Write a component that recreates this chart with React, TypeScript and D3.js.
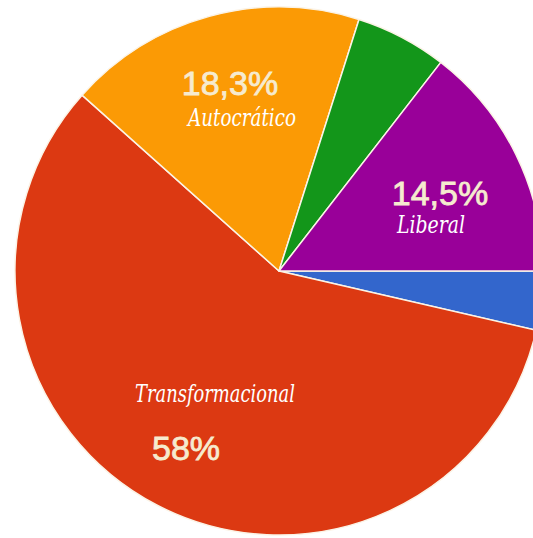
import React from "react";
import * as d3 from "d3";

const categories = ["Otro", "Transformacional", "Autocrático", "Otro 2", "Liberal"];
const values = [3.6, 58, 18.3, 5.6, 14.5];
const colors = ["#3366cc", "#dc3912", "#fb9a05", "#13961a", "#990099"];
const pctLabels = ["", "58%", "18,3%", "", "14,5%"];
const nameLabels = ["", "Transformacional", "Autocrático", "", "Liberal"];

const W = 533;
const H = 538;
const cx = 279;
const cy = 271;
const R = 264;

// label placements (x center, baseline) per slice index
const pctPos: Record<number, [number, number]> = { 1: [186, 460], 2: [230, 95], 4: [440, 205] };
const namePos: Record<number, [number, number, number]> = {
  1: [215, 402, 160],
  2: [242, 126, 108],
  4: [431, 233, 68],
};

export default function App() {
  const data = categories.map((c, i) => ({ c, v: values[i], i }));
  const pie = d3
    .pie<{ c: string; v: number; i: number }>()
    .value((d) => d.v)
    .sort(null)
    .startAngle(Math.PI / 2)
    .endAngle(Math.PI / 2 + 2 * Math.PI);
  const arcs = pie(data);
  const arc = d3.arc<d3.PieArcDatum<{ c: string; v: number; i: number }>>().innerRadius(0).outerRadius(R);

  return (
    <svg
      width={W}
      height={H}
      style={{ position: "absolute", left: 0, top: 0, background: "#fff" }}
    >
      <g transform={`translate(${cx},${cy})`}>
        {arcs.map((a) => (
          <path
            key={a.data.c}
            d={arc(a) || ""}
            fill={colors[a.data.i]}
            stroke="#fbf3e6"
            strokeWidth={1.5}
            strokeLinejoin="round"
          />
        ))}
      </g>
      {arcs.map((a) => {
        const i = a.data.i;
        const p = pctPos[i];
        const n = namePos[i];
        return (
          <g key={"l" + i}>
            {p && (
              <text
                x={p[0]}
                y={p[1]}
                textAnchor="middle"
                fontFamily="'Liberation Sans', Arial, sans-serif"
                fontSize={34}
                fill="#f6ebcf"
                stroke="#f6ebcf"
                strokeWidth={0.8}
              >
                {pctLabels[i]}
              </text>
            )}
            {n && (
              <text
                x={n[0]}
                y={n[1]}
                textAnchor="middle"
                fontFamily="'DejaVu Serif', serif"
                fontStyle="italic"
                fontSize={25}
                fill="#ffffff"
                textLength={n[2]}
                lengthAdjust="spacingAndGlyphs"
              >
                {nameLabels[i]}
              </text>
            )}
          </g>
        );
      })}
    </svg>
  );
}
